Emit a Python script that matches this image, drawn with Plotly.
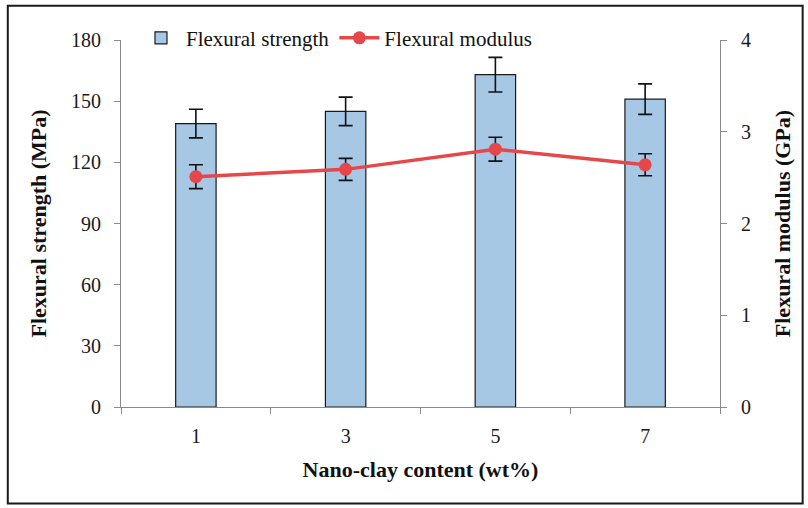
import plotly.graph_objects as go

# Nano-clay loading (wt%) and measured flexural properties
clay_content = ["1", "3", "5", "7"]
strength_mpa = [139, 145, 163, 151]
strength_err = [7, 7, 8.5, 7.5]
modulus_gpa = [2.51, 2.59, 2.81, 2.64]
modulus_err = [0.13, 0.12, 0.13, 0.12]

serif = "Liberation Serif"

fig = go.Figure()

fig.add_trace(go.Bar(
    x=clay_content, y=strength_mpa, name="Flexural strength",
    width=0.27,
    marker=dict(color="#a7c8e5", line=dict(color="#1a1a1a", width=1.2)),
    error_y=dict(type="data", array=strength_err, color="#111111",
                 thickness=1.6, width=7),
))

fig.add_trace(go.Scatter(
    x=clay_content, y=modulus_gpa, name="Flexural modulus",
    yaxis="y2", mode="lines+markers",
    line=dict(color="#e5474b", width=3.5),
    marker=dict(color="#e5474b", size=13),
    error_y=dict(type="data", array=modulus_err, color="#111111",
                 thickness=1.6, width=7),
))

axis_font = dict(family=serif, size=20, color="#1a1a1a")
title_font = dict(family=serif, size=22, color="#111111", weight="bold")

fig.update_layout(
    width=808, height=508,
    margin=dict(l=121, r=88, t=40, b=101),
    paper_bgcolor="white", plot_bgcolor="white",
    bargap=0.73,
    showlegend=True,
    legend=dict(orientation="h", x=0.025, y=1.005, xanchor="left", yanchor="middle",
                font=dict(family=serif, size=21, color="#111111"),
                bgcolor="rgba(0,0,0,0)", itemwidth=40, tracegroupgap=0),
    xaxis=dict(
        type="category", showline=True, linecolor="#8a8a8a", linewidth=1.2,
        ticks="outside", tickson="boundaries", ticklen=6, tickcolor="#8a8a8a",
        tickfont=axis_font, ticklabelstandoff=11, showgrid=False, zeroline=False,
        title=dict(text="Nano-clay content (wt%)", font=title_font, standoff=15),
    ),
    yaxis=dict(
        range=[0, 180], tickvals=[0, 30, 60, 90, 120, 150, 180],
        showline=True, linecolor="#8a8a8a", linewidth=1.2,
        ticks="outside", ticklen=6, tickcolor="#8a8a8a",
        tickfont=axis_font, ticklabelstandoff=9, showgrid=False, zeroline=False,
        title=dict(text="Flexural strength (MPa)", font=title_font, standoff=18),
    ),
    yaxis2=dict(
        range=[0, 4], tickvals=[0, 1, 2, 3, 4], overlaying="y", side="right",
        showline=True, linecolor="#8a8a8a", linewidth=1.2,
        ticks="outside", ticklen=6, tickcolor="#8a8a8a",
        tickfont=axis_font, ticklabelstandoff=10, showgrid=False, zeroline=False,
        title=dict(text="Flexural modulus (GPa)", font=title_font, standoff=24),
    ),
    shapes=[dict(type="rect", xref="paper", yref="paper",
                 x0=-0.189, x1=1.138, y0=-0.263, y1=1.093,
                 line=dict(color="#1a1a1a", width=2), fillcolor="rgba(0,0,0,0)",
                 layer="below")],
)

fig.write_html("out.html")
